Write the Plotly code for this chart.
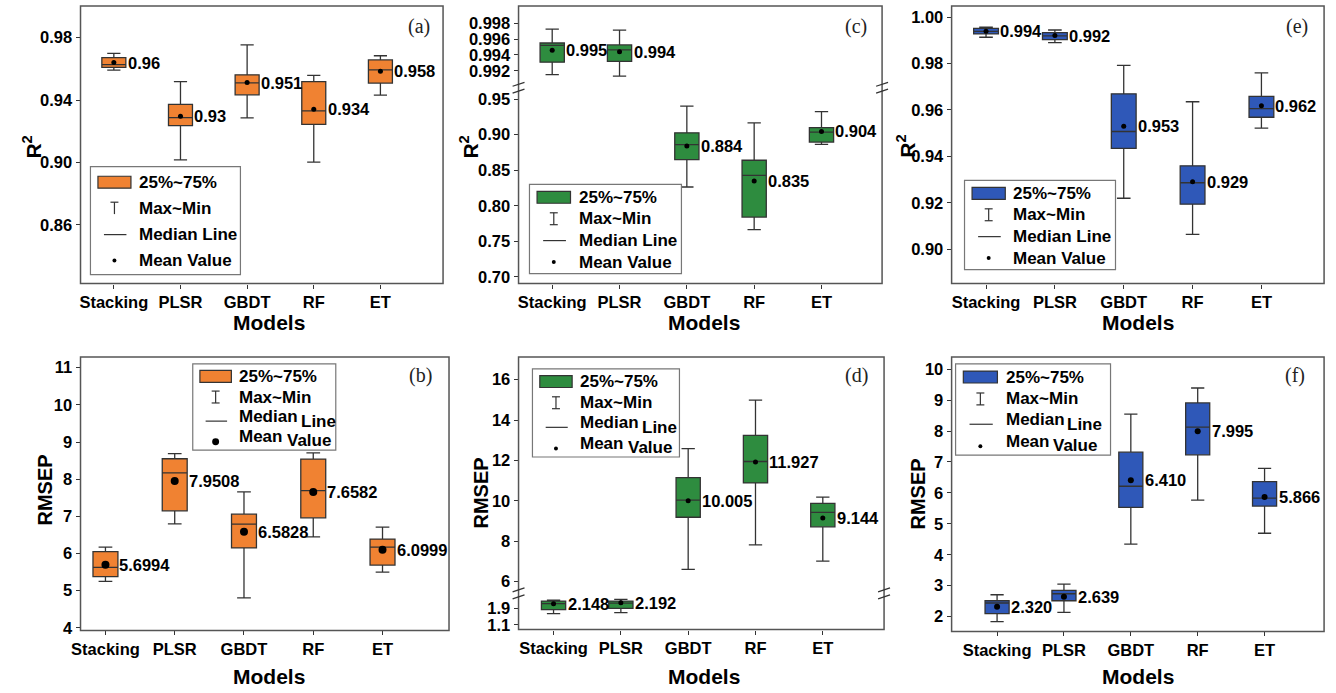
import plotly.graph_objects as go

W, H = 1336, 693
models = ["Stacking", "PLSR", "GBDT", "RF", "ET"]

# (a) R2 - orange
a_max = [0.9699, 0.9518, 0.9754, 0.9558, 0.9684]
a_q3 = [0.9672, 0.9373, 0.9562, 0.9518, 0.9657]
a_med = [0.9627, 0.9288, 0.9510, 0.9331, 0.9594]
a_q1 = [0.9610, 0.9236, 0.9434, 0.9244, 0.9509]
a_min = [0.9592, 0.9017, 0.9286, 0.9002, 0.9432]
a_mean = [0.9640, 0.9297, 0.9512, 0.9341, 0.9585]
a_lbl = ["0.96", "0.93", "0.951", "0.934", "0.958"]
a_ticks = [0.86, 0.90, 0.94, 0.98]

# (b) RMSEP - orange
b_max = [6.17, 8.69, 7.66, 8.71, 6.71]
b_q3 = [6.05, 8.55, 7.06, 8.54, 6.39]
b_med = [5.63, 8.17, 6.79, 7.69, 6.17]
b_q1 = [5.38, 7.15, 6.15, 6.96, 5.69]
b_min = [5.25, 6.80, 4.81, 6.45, 5.50]
b_mean = [5.6994, 7.9508, 6.5828, 7.6582, 6.0999]
b_lbl = ["5.6994", "7.9508", "6.5828", "7.6582", "6.0999"]
b_ticks = [4, 5, 6, 7, 8, 9, 10, 11]

# (c) R2 - green (broken axis)
c_max = [0.99725, 0.99713, 0.9402, 0.9165, 0.9323]
c_q3 = [0.99550, 0.99525, 0.9026, 0.8640, 0.9100]
c_med = [0.99521, 0.99463, 0.8859, 0.8427, 0.9035]
c_q1 = [0.99308, 0.99317, 0.8650, 0.7841, 0.8896]
c_min = [0.99150, 0.99133, 0.8264, 0.7665, 0.8863]
c_mean = [0.99458, 0.99438, 0.8840, 0.8348, 0.9045]
c_lbl = ["0.995", "0.994", "0.884", "0.835", "0.904"]
c_ticks_up = [0.992, 0.994, 0.996, 0.998]
c_ticks_low = [0.70, 0.75, 0.80, 0.85, 0.90, 0.95]

# (d) RMSEP - green (broken axis)
d_max = [2.324, 2.357, 12.585, 14.987, 10.183]
d_q3 = [2.276, 2.276, 11.147, 13.239, 9.873]
d_med = [2.145, 2.178, 10.036, 11.948, 9.431]
d_q1 = [1.851, 1.916, 9.186, 10.886, 8.712]
d_min = [1.655, 1.704, 6.605, 7.814, 7.013]
d_mean = [2.148, 2.192, 10.005, 11.927, 9.144]
d_lbl = ["2.148", "2.192", "10.005", "11.927", "9.144"]
d_ticks_up = [6, 8, 10, 12, 14, 16]
d_ticks_low = [1.1, 1.9]

# (e) R2 - blue
e_max = [0.99570, 0.99444, 0.97920, 0.96353, 0.97593]
e_q3 = [0.99516, 0.99330, 0.96695, 0.93590, 0.96581]
e_med = [0.99387, 0.99188, 0.95071, 0.92863, 0.96054]
e_q1 = [0.99274, 0.99031, 0.94345, 0.91937, 0.95684]
e_min = [0.99131, 0.98903, 0.92194, 0.90641, 0.95214]
e_mean = [0.99390, 0.99202, 0.95299, 0.92906, 0.96182]
e_lbl = ["0.994", "0.992", "0.953", "0.929", "0.962"]
e_ticks = [0.90, 0.92, 0.94, 0.96, 0.98, 1.00]

# (f) RMSEP - blue
f_max = [2.706, 3.048, 8.545, 9.390, 6.791]
f_q3 = [2.513, 2.845, 7.316, 8.909, 6.364]
f_med = [2.439, 2.738, 6.214, 8.128, 5.829]
f_q1 = [2.096, 2.513, 5.529, 7.230, 5.572]
f_min = [1.840, 2.139, 4.342, 5.765, 4.695]
f_mean = [2.320, 2.639, 6.410, 7.995, 5.866]
f_lbl = ["2.320", "2.639", "6.410", "7.995", "5.866"]
f_ticks = [2, 3, 4, 5, 6, 7, 8, 9, 10]

legend_labels = ["25%~75%", "Max~Min", "Median Line", "Mean Value"]

ORANGE = "#F08232"
GREEN = "#2E8C3F"
BLUE = "#2F58B8"
LC = "#333333"
FONT = "Liberation Sans, Arial, sans-serif"
SERIF = "Liberation Serif, Times New Roman, serif"


def px(x):
    return x / W


def py(y):
    return 1 - y / H


fig = go.Figure()
shapes = []
annots = []


def add_panel(xa, ya, idx, mx, q3, med, q1, mn, mean, lbl, color, msize):
    xs = [models[i] for i in idx]
    fig.add_trace(go.Box(
        x=xs, q1=[q1[i] for i in idx], median=[med[i] for i in idx],
        q3=[q3[i] for i in idx], lowerfence=[mn[i] for i in idx],
        upperfence=[mx[i] for i in idx], fillcolor=color,
        line=dict(color=LC, width=1.3), width=0.36, whiskerwidth=0.55,
        boxpoints=False, xaxis=xa, yaxis=ya, showlegend=False, hoverinfo="skip"))
    fig.add_trace(go.Scatter(
        x=xs, y=[mean[i] for i in idx], mode="markers",
        marker=dict(color="black", size=msize), xaxis=xa, yaxis=ya,
        showlegend=False, hoverinfo="skip"))
    for i in idx:
        annots.append(dict(x=models[i], y=mean[i], xref=xa, yref=ya, text=lbl[i],
                           showarrow=False, xanchor="left", yanchor="middle", xshift=12,
                           font=dict(family=FONT, size=16.5, weight="bold", color="black")))


tickfont = dict(family=FONT, size=16.5, weight="bold", color="black")


def xax(l, r, rng, anchor):
    return dict(domain=[px(l), px(r)], range=rng, anchor=anchor, type="category",
                categoryorder="array", categoryarray=models, ticks="outside", ticklen=4,
                tickcolor=LC, tickfont=tickfont, showgrid=False, zeroline=False,
                showline=False, fixedrange=True)


def yax(t, b, rng, anchor, tv, fmt):
    return dict(domain=[py(b), py(t)], range=rng, anchor=anchor, ticks="outside",
                ticklen=4, tickcolor=LC, tickfont=tickfont, tickvals=tv, tickformat=fmt,
                showgrid=False, zeroline=False, showline=False, fixedrange=True)


def frame(l, t, r, b):
    shapes.append(dict(type="rect", xref="paper", yref="paper", x0=px(l), x1=px(r),
                       y0=py(b), y1=py(t), line=dict(color="#555", width=1.5),
                       fillcolor="rgba(0,0,0,0)", layer="above"))


def breakmark(xe, yb):
    for d in (-4, 3):
        shapes.append(dict(type="line", xref="paper", yref="paper",
                           x0=px(xe - 6), y0=py(yb + d + 2), x1=px(xe + 6), y1=py(yb + d - 2),
                           line=dict(color="#333", width=1.3), layer="above"))


def text(x, y, s, size=17, anchor="left", family=FONT, weight="bold", angle=0, color="black"):
    annots.append(dict(x=px(x), y=py(y), xref="paper", yref="paper", text=s,
                       showarrow=False, xanchor=anchor, yanchor="middle", textangle=angle,
                       font=dict(family=family, size=size, weight=weight, color=color)))


def legend(l, t, r, b, color, split, top_only, dot_r):
    w, h = r - l, b - t
    shapes.append(dict(type="rect", xref="paper", yref="paper", x0=px(l), x1=px(r),
                       y0=py(b), y1=py(t), line=dict(color="#777", width=1.2),
                       fillcolor="white", layer="above"))
    rows = [t + f * h for f in (0.145, 0.385, 0.63, 0.87)]
    tx = l + 0.31 * w
    sx = l + 0.16 * w
    shapes.append(dict(type="rect", xref="paper", yref="paper", x0=px(l + 0.05 * w),
                       x1=px(l + 0.27 * w), y0=py(rows[0] + 6), y1=py(rows[0] - 6),
                       fillcolor=color, line=dict(color=LC, width=1.2), layer="above"))
    y0, y1 = rows[1] - 6, rows[1] + 6
    shapes.append(dict(type="line", xref="paper", yref="paper", x0=px(sx), x1=px(sx),
                       y0=py(y0), y1=py(y1), line=dict(color=LC, width=1.2), layer="above"))
    shapes.append(dict(type="line", xref="paper", yref="paper", x0=px(sx - 4), x1=px(sx + 4),
                       y0=py(y0), y1=py(y0), line=dict(color=LC, width=1.2), layer="above"))
    if not top_only:
        shapes.append(dict(type="line", xref="paper", yref="paper", x0=px(sx - 4),
                           x1=px(sx + 4), y0=py(y1), y1=py(y1),
                           line=dict(color=LC, width=1.2), layer="above"))
    off = 3 if split else 0
    shapes.append(dict(type="line", xref="paper", yref="paper", x0=px(l + 0.09 * w),
                       x1=px(l + 0.24 * w), y0=py(rows[2] + off), y1=py(rows[2] + off),
                       line=dict(color=LC, width=1.2), layer="above"))
    shapes.append(dict(type="circle", xref="paper", yref="paper", x0=px(sx - dot_r),
                       x1=px(sx + dot_r), y0=py(rows[3] + off + dot_r),
                       y1=py(rows[3] + off - dot_r), fillcolor="black",
                       line=dict(color="black", width=0), layer="above"))
    text(tx, rows[0], legend_labels[0])
    text(tx, rows[1], legend_labels[1])
    if split:
        w1, w2 = legend_labels[2].split(" ")
        text(tx, rows[2] - 2, w1)
        text(tx + 62, rows[2] + 3, w2)
        v1, v2 = legend_labels[3].split(" ")
        text(tx, rows[3] - 2, v1)
        text(tx + 48, rows[3] + 2, v2)
    else:
        text(tx, rows[2], legend_labels[2])
        text(tx, rows[3], legend_labels[3])


ALL = [0, 1, 2, 3, 4]
add_panel("x", "y", ALL, a_max, a_q3, a_med, a_q1, a_min, a_mean, a_lbl, ORANGE, 5)
add_panel("x2", "y2", ALL, b_max, b_q3, b_med, b_q1, b_min, b_mean, b_lbl, ORANGE, 8)
add_panel("x3", "y4", [0, 1], c_max, c_q3, c_med, c_q1, c_min, c_mean, c_lbl, GREEN, 5)
add_panel("x3", "y3", [2, 3, 4], c_max, c_q3, c_med, c_q1, c_min, c_mean, c_lbl, GREEN, 5)
add_panel("x4", "y5", [0, 1], d_max, d_q3, d_med, d_q1, d_min, d_mean, d_lbl, GREEN, 5)
add_panel("x4", "y6", [2, 3, 4], d_max, d_q3, d_med, d_q1, d_min, d_mean, d_lbl, GREEN, 5)
add_panel("x5", "y7", ALL, e_max, e_q3, e_med, e_q1, e_min, e_mean, e_lbl, BLUE, 5)
add_panel("x6", "y8", ALL, f_max, f_q3, f_med, f_q1, f_min, f_mean, f_lbl, BLUE, 6)

layout = dict(
    width=W, height=H, margin=dict(l=0, r=0, t=0, b=0),
    paper_bgcolor="white", plot_bgcolor="white", showlegend=False,
    font=dict(family=FONT, color="black"),
    xaxis=xax(72, 437, [-0.5, 4.94], "y"),
    yaxis=yax(6, 286, [0.8225, 1.0003], "x", a_ticks, ".2f"),
    xaxis2=xax(72, 443, [-0.36, 4.96], "y2"),
    yaxis2=yax(360, 636, [3.93, 11.29], "x2", b_ticks, "d"),
    xaxis3=xax(513, 879, [-0.5, 4.9], "y3"),
    yaxis3=yax(90, 286, [0.6907, 0.9639], "x3", c_ticks_low, ".2f"),
    yaxis4=yax(6, 90, [0.98967, 1.00017], "x3", c_ticks_up, ".3f"),
    xaxis4=xax(513, 881, [-0.52, 4.91], "y5"),
    yaxis5=yax(598, 635, [0.871, 2.684], "x4", d_ticks_low, ".1f"),
    yaxis6=yax(360, 598, [5.444, 17.13], "x4", d_ticks_up, "d"),
    xaxis5=xax(949, 1324, [-0.5, 4.91], "y7"),
    yaxis7=yax(6, 286, [0.8852, 1.0048], "x5", e_ticks, ".2f"),
    xaxis6=xax(949, 1324, [-0.68, 4.89], "y8"),
    yaxis8=yax(360, 637, [1.519, 10.396], "x6", f_ticks, "d"),
)

frame(72, 6, 437, 286)
frame(72, 360, 443, 636)
frame(513, 6, 879, 286)
frame(513, 360, 881, 635)
frame(949, 6, 1324, 286)
frame(949, 360, 1324, 637)
breakmark(513, 89)
breakmark(879, 89)
breakmark(513, 599)
breakmark(881, 599)

legend(82, 168, 233, 277, ORANGE, False, True, 2)
legend(185, 367, 329, 454, ORANGE, True, False, 3.5)
legend(524, 186, 677, 276, GREEN, False, False, 2)
legend(527, 372, 675, 461, GREEN, True, False, 2)
legend(962, 182, 1114, 272, BLUE, False, False, 2)
legend(953, 367, 1109, 459, BLUE, True, False, 2)

# axis titles
for (x, y) in [(23, 148), (463, 148), (903, 147)]:
    text(x, y, "R<sup>2</sup>", size=21, anchor="center", angle=-90)
for (x, y) in [(36, 494), (475, 497), (915, 498)]:
    text(x, y, "RMSEP", size=20, anchor="center", angle=-90)
for (x, y) in [(262, 325), (700, 325), (1137, 325), (262, 682), (700, 682), (1137, 682)]:
    text(x, y, "Models", size=21, anchor="center")

# panel letters
for (x, y, s) in [(413, 27, "(a)"), (853, 27, "(c)"), (1297, 27, "(e)"),
                  (414, 379, "(b)"), (853, 379, "(d)"), (1295, 379, "(f)")]:
    text(x, y, s, size=20, anchor="center", family=SERIF, weight="normal", color="#222")

layout["shapes"] = shapes
layout["annotations"] = annots
fig.update_layout(**layout)
fig.write_html("out.html")
